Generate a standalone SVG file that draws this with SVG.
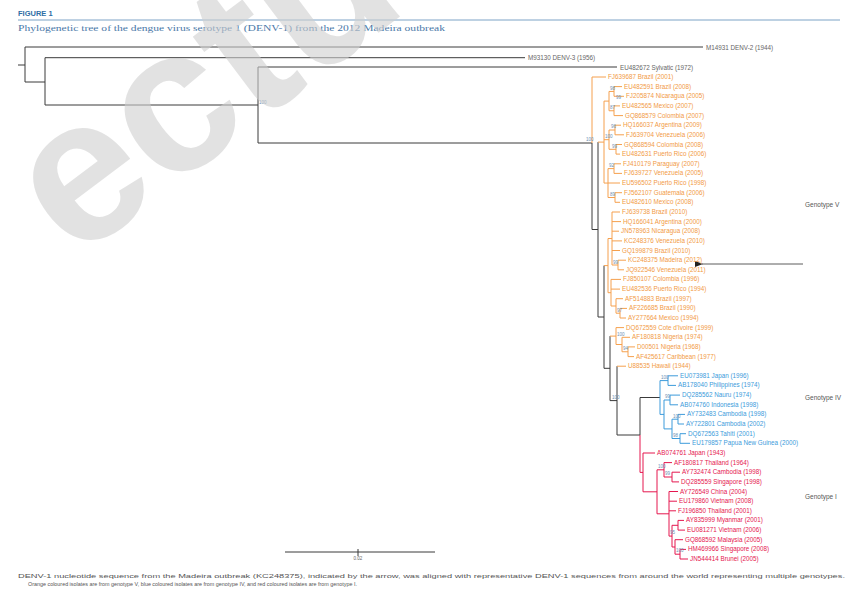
<svg xmlns="http://www.w3.org/2000/svg" width="858" height="592" viewBox="0 0 858 592">
<defs>
<style>
.sp{fill:none;stroke:#3a3a3a;stroke-width:1}
.o{fill:none;stroke:#F5A04E;stroke-width:1}
.b{fill:none;stroke:#3C9BDB;stroke-width:1}
.r{fill:none;stroke:#E5174F;stroke-width:1}
text{font-family:"Liberation Sans",Arial,sans-serif}
.lo{font-size:6.3px;fill:#F29A45}
.lb{font-size:6.3px;fill:#3C9BDB}
.lr{font-size:6.3px;fill:#E5174F}
.lg{font-size:6.3px;fill:#666}
.bs{font-size:4.5px;fill:#6d8fb3}
.gt{font-size:6.5px;fill:#555}
.ft{font-size:5.2px;fill:#555}
</style>
<marker id="ah" markerWidth="8" markerHeight="6" refX="1" refY="3" orient="auto" markerUnits="userSpaceOnUse">
<polygon points="8,0 0,3 8,6" fill="#222"/>
</marker>
</defs>
<rect width="858" height="592" fill="#fff"/>

<g id="header">
<text x="18" y="16" font-size="7.5" font-weight="bold" fill="#2e6da4">FIGURE 1</text>
<line x1="18" y1="20" x2="840" y2="20" stroke="#7da3c6" stroke-width="1"/>
<text x="18" y="31" font-size="8.5" fill="#4a78a8" style="font-family:'Liberation Serif',serif" textLength="427" lengthAdjust="spacingAndGlyphs">Phylogenetic tree of the dengue virus serotype 1 (DENV-1) from the 2012 Madeira outbreak</text>
</g>

<g id="connectors">
<path class="sp" d="M18 65H25M25 47V82M25 47H703M25 82H45M45 57.7V105M45 57.7H525M45 105H258M258 67V143M258 67H617M258 143H592"/>
<path class="o" d="M592 77V143M592 77H606"/>
<path class="sp" d="M592 143V229.5M592 229.5H598M598 142.1V317M598 317H604M604 265.6V368.3M604 368.3H610M610 336.1V400.6M610 400.6H617M617 366.2V435M617 435H640M640 397.5V435M640 397.5H660"/>
<path class="o" d="M598 142.1H604M604 101.1V183.05
M604 101.1H609M609 91.45V110.75M609 91.45H614M614 86.6V96.3M614 86.6H622M614 96.3H624M609 110.75H614M614 105.9V115.6M614 105.9H620M614 115.6H623
M604 139.7H609M609 130V149.3M609 130H615M615 125.2V134.8M615 125.2H621M615 134.8H624M609 149.3H616M616 144.5V154.1M616 144.5H622M616 154.1H620
M604 183.05H608M608 168.6V197.5M608 168.6H614M614 163.8V173.4M614 163.8H621M614 173.4H622M608 183H620M608 197.5H615M615 192.7V202.3M615 192.7H622M615 202.3H620
M604 265.6H608M608 238.5V292.7M608 238.5H612M612 212V265M612 212H620M612 221.6H621M612 231.2H619M612 240.9H622M612 250.5H620M612 265H618M618 260.2V269.8M618 260.2H626M618 269.8H624
M608 292.7H611M611 279.4V306M611 279.4H621M611 289.1H620M611 306H616M616 298.7V313.2M616 298.7H623M616 313.2H620M620 308.4V318M620 308.4H627M620 318H626
M610 336.1H616M616 327.6V344.5M616 327.6H624M616 344.5H622M622 337.3V351.75M622 337.3H630M622 351.75H628M628 346.9V356.6M628 346.9H635M628 356.6H634
M617 366.2H626"/>
<path class="b" d="M660 380.6V414.4M660 380.6H668M668 375.8V385.4M668 375.8H678M668 385.4H676M660 414.4H664M664 400V428.9M664 400H670M670 395.1V404.8M670 395.1H680M670 404.8H678M664 428.9H672M672 419.2V438.5M672 419.2H678M678 414.4V424M678 414.4H685M678 424H684M672 438.5H680M680 433.7V443.3M680 433.7H686M680 443.3H690"/>
<path class="r" d="M640 435V472.4M640 472.4H643M643 453V491.8M643 453H655M643 491.8H657M657 469.8V513.8M657 469.8H664M664 462.6V477M664 462.6H672M664 477H672M672 472.2V481.9M672 472.2H680M672 481.9H679M657 513.8H669M669 491.5V536.1M669 491.5H678M669 501.2H677M669 510.8H676M669 536.1H672M672 525.3V547M672 525.3H678M678 520.4V530.1M678 520.4H684M678 530.1H685M672 547H675M675 539.7V554.2M675 539.7H683M675 554.2H680M680 549.4V559M680 549.4H686M680 559H688"/>
<line x1="803" y1="264" x2="702" y2="264" stroke="#333" stroke-width="0.8" marker-end="url(#ah)"/>
</g>

<g id="bootstrap">
<text class="bs" x="259" y="104">100</text>
<text class="bs" x="586" y="141">100</text>
<text class="bs" x="610" y="90">98</text>
<text class="bs" x="610" y="109">87</text>
<text class="bs" x="616" y="99">99</text>
<text class="bs" x="605" y="138">100</text>
<text class="bs" x="611" y="128">96</text>
<text class="bs" x="612" y="148">99</text>
<text class="bs" x="609" y="167">92</text>
<text class="bs" x="610" y="196">89</text>
<text class="bs" x="613" y="264">99</text>
<text class="bs" x="617" y="312">97</text>
<text class="bs" x="617" y="336">100</text>
<text class="bs" x="623" y="350">94</text>
<text class="bs" x="612" y="399">100</text>
<text class="bs" x="661" y="379">100</text>
<text class="bs" x="665" y="398">99</text>
<text class="bs" x="673" y="418">100</text>
<text class="bs" x="673" y="437">98</text>
<text class="bs" x="658" y="468">100</text>
<text class="bs" x="665" y="475">99</text>
<text class="bs" x="670" y="534">95</text>
<text class="bs" x="676" y="552">100</text>
</g>

<g id="outgroups">
<text class="lg" x="706" y="49.5">M14931 DENV-2 (1944)</text>
<text class="lg" x="528" y="60">M93130 DENV-3 (1956)</text>
<text class="lg" x="620" y="69.5">EU482672 Sylvatic (1972)</text>
</g>

<g id="genotype-V-leaves">
<text class="lo" x="608" y="79">FJ639687 Brazil (2001)</text>
<text class="lo" x="624" y="88.6">EU482591 Brazil (2008)</text>
<text class="lo" x="626" y="98.3">FJ205874 Nicaragua (2005)</text>
<text class="lo" x="622" y="107.9">EU482565 Mexico (2007)</text>
<text class="lo" x="625" y="117.6">GQ868579 Colombia (2007)</text>
<text class="lo" x="623" y="127.2">HQ166037 Argentina (2009)</text>
<text class="lo" x="626" y="136.8">FJ639704 Venezuela (2006)</text>
<text class="lo" x="624" y="146.5">GQ868594 Colombia (2008)</text>
<text class="lo" x="622" y="156.1">EU482631 Puerto Rico (2006)</text>
<text class="lo" x="623" y="165.8">FJ410179 Paraguay (2007)</text>
<text class="lo" x="624" y="175.4">FJ639727 Venezuela (2005)</text>
<text class="lo" x="622" y="185">EU596502 Puerto Rico (1998)</text>
<text class="lo" x="624" y="194.7">FJ562107 Guatemala (2006)</text>
<text class="lo" x="622" y="204.3">EU482610 Mexico (2008)</text>
<text class="lo" x="622" y="214">FJ639738 Brazil (2010)</text>
<text class="lo" x="623" y="223.6">HQ166041 Argentina (2000)</text>
<text class="lo" x="621" y="233.2">JN578963 Nicaragua (2008)</text>
<text class="lo" x="624" y="242.9">KC248376 Venezuela (2010)</text>
<text class="lo" x="622" y="252.5">GQ199879 Brazil (2010)</text>
<text class="lo" x="628" y="262.2">KC248375 Madeira (2012)</text>
<text class="lo" x="626" y="271.8">JQ922546 Venezuela (2011)</text>
<text class="lo" x="623" y="281.4">FJ850107 Colombia (1996)</text>
<text class="lo" x="622" y="291.1">EU482536 Puerto Rico (1994)</text>
<text class="lo" x="625" y="300.7">AF514883 Brazil (1997)</text>
<text class="lo" x="629" y="310.4">AF226685 Brazil (1990)</text>
<text class="lo" x="628" y="320">AY277664 Mexico (1994)</text>
<text class="lo" x="626" y="329.6">DQ672559 Cote d'Ivoire (1999)</text>
<text class="lo" x="632" y="339.3">AF180818 Nigeria (1974)</text>
<text class="lo" x="637" y="348.9">D00501 Nigeria (1968)</text>
<text class="lo" x="636" y="358.6">AF425617 Caribbean (1977)</text>
<text class="lo" x="628" y="368.2">U88535 Hawaii (1944)</text>
</g>

<g id="genotype-IV-leaves">
<text class="lb" x="680" y="377.8">EU073981 Japan (1996)</text>
<text class="lb" x="678" y="387.4">AB178040 Philippines (1974)</text>
<text class="lb" x="682" y="397.1">DQ285562 Nauru (1974)</text>
<text class="lb" x="680" y="406.8">AB074760 Indonesia (1998)</text>
<text class="lb" x="687" y="416.4">AY732483 Cambodia (1998)</text>
<text class="lb" x="686" y="426">AY722801 Cambodia (2002)</text>
<text class="lb" x="688" y="435.7">DQ672563 Tahiti (2001)</text>
<text class="lb" x="692" y="445.3">EU179857 Papua New Guinea (2000)</text>
</g>

<g id="genotype-I-leaves">
<text class="lr" x="657" y="455">AB074761 Japan (1943)</text>
<text class="lr" x="674" y="464.6">AF180817 Thailand (1964)</text>
<text class="lr" x="682" y="474.2">AY732474 Cambodia (1998)</text>
<text class="lr" x="681" y="483.9">DQ285559 Singapore (1998)</text>
<text class="lr" x="680" y="493.5">AY726549 China (2004)</text>
<text class="lr" x="679" y="503.2">EU179860 Vietnam (2008)</text>
<text class="lr" x="678" y="512.8">FJ196850 Thailand (2001)</text>
<text class="lr" x="686" y="522.4">AY835999 Myanmar (2001)</text>
<text class="lr" x="687" y="532.1">EU081271 Vietnam (2006)</text>
<text class="lr" x="685" y="541.7">GQ868592 Malaysia (2005)</text>
<text class="lr" x="688" y="551.4">HM469966 Singapore (2008)</text>
<text class="lr" x="690" y="561">JN544414 Brunei (2005)</text>
</g>

<g id="genotype-labels">
<text class="gt" x="805" y="207">Genotype V</text>
<text class="gt" x="805" y="400">Genotype IV</text>
<text class="gt" x="805" y="499">Genotype I</text>
</g>

<g id="scale-bar">
<path class="sp" d="M285 552H435M358 549V556"/>
<text x="358" y="560" font-size="4.5" fill="#666" text-anchor="middle">0.02</text>
</g>

<g id="footer">
<text class="ft" x="18" y="578" textLength="827" lengthAdjust="spacingAndGlyphs">DENV-1 nucleotide sequence from the Madeira outbreak (KC248375), indicated by the arrow, was aligned with representative DENV-1 sequences from around the world representing multiple genotypes.</text>
<text class="ft" x="28" y="586" textLength="329" lengthAdjust="spacingAndGlyphs">Orange coloured isolates are from genotype V, blue coloured isolates are from genotype IV, and red coloured isolates are from genotype I.</text>
</g>

<g id="watermark">
<text x="74" y="262" transform="rotate(-37 74 262)" font-size="205" font-weight="bold" fill="#cfcfcf" fill-opacity="0.6">ectu</text>
</g>
</svg>
